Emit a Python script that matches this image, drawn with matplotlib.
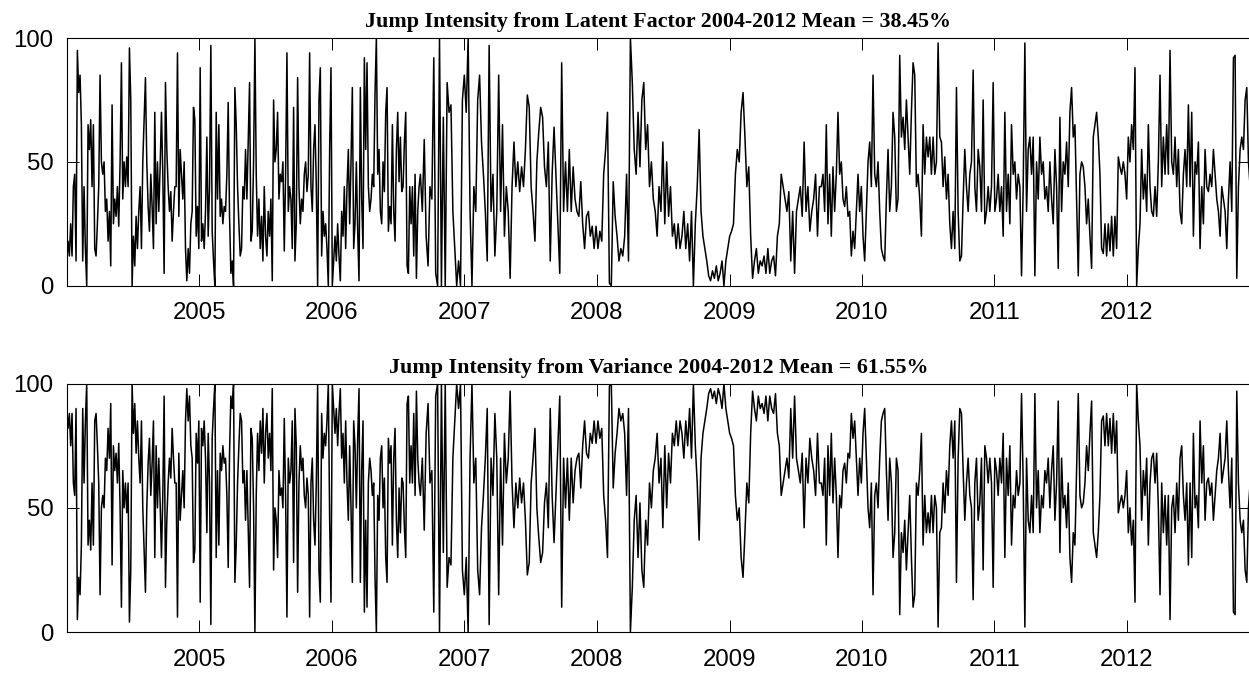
import numpy as np
import pandas as pd
import matplotlib
matplotlib.use('Agg')
import matplotlib.pyplot as plt
import matplotlib.dates as mdates

# dates where each typed block of values starts / ends
seg_edges = ['2004-01-01', '2006-09-02', '2009-09-11', '2012-12-06']

# jump intensity from latent factor (%)
latent_1 = [10, 18, 12, 25, 12, 40, 45, 10, 95, 78, 85, 65, 10, 40, 15, 0, 65, 55, 67, 40,
            65, 15, 12, 25, 40, 85, 50, 45, 50, 30, 35, 18, 30, 8, 73, 25, 35, 28, 40, 24,
            50, 90, 35, 50, 40, 52, 40, 96, 75, 0, 20, 8, 28, 15, 30, 40, 15, 50, 67, 84,
            50, 32, 22, 45, 32, 15, 70, 25, 50, 30, 48, 70, 45, 5, 82, 55, 40, 30, 38, 18,
            30, 40, 40, 94, 28, 55, 45, 35, 50, 15, 2, 15, 5, 25, 30, 72, 67, 20, 32, 15,
            88, 18, 25, 15, 30, 60, 20, 40, 97, 22, 10, 0, 70, 35, 65, 28, 35, 25, 32, 30,
            45, 74, 28, 5, 10, 0, 80, 65, 40, 25, 12, 15, 40, 35, 55, 35, 58, 82, 18, 22,
            50, 100, 45, 20, 35, 15, 28, 10, 40, 20, 12, 30, 20, 35, 2, 75, 50, 55, 70, 35,
            45, 42, 50, 14, 45, 94, 30, 40, 35, 15, 72, 10, 25, 84, 40, 25, 35, 30, 45, 50,
            38, 45, 94, 40, 30, 55, 65, 40, 0, 75, 88, 12, 30, 20, 25, 15, 0, 55, 88, 0,
            10, 20, 10, 25, 12, 2, 30, 20, 40, 15, 40, 55, 25, 50, 80, 15, 25, 50, 22, 2,
            80, 35, 15, 92, 55, 90, 40, 30, 35, 45, 40, 78, 100, 45, 55, 30, 25, 50, 38, 70,
            80, 22, 32, 25, 65, 30, 18, 55, 70, 42, 60, 38, 40, 58, 70, 8, 5, 40, 25, 40,
            12, 45, 3, 30, 40]
latent_2 = [45, 30, 59, 20, 8, 40, 35, 92, 5, 0, 100, 0, 68, 0, 82, 70, 73, 30, 15, 0,
            10, 0, 75, 85, 70, 100, 30, 0, 40, 30, 75, 85, 58, 45, 30, 10, 97, 30, 45, 12,
            30, 85, 30, 65, 20, 40, 30, 3, 40, 58, 40, 50, 38, 48, 40, 55, 77, 72, 40, 30,
            18, 50, 62, 72, 68, 48, 40, 58, 10, 45, 64, 45, 25, 5, 90, 30, 50, 30, 55, 30,
            48, 35, 30, 28, 42, 25, 15, 28, 30, 20, 24, 15, 24, 15, 22, 18, 45, 55, 70, 1,
            0, 42, 28, 20, 10, 15, 12, 20, 45, 10, 100, 82, 55, 45, 70, 48, 75, 82, 55, 65,
            40, 50, 35, 30, 20, 40, 30, 58, 25, 50, 28, 40, 20, 25, 15, 25, 15, 20, 30, 15,
            25, 10, 30, 0, 25, 40, 63, 30, 20, 15, 10, 4, 2, 6, 3, 8, 2, 5, 10, 0,
            10, 15, 20, 22, 25, 45, 55, 50, 70, 78, 60, 40, 48, 20, 3, 10, 15, 5, 10, 8,
            12, 5, 15, 5, 10, 12, 4, 20, 25, 45, 40, 35, 30, 38, 10, 30, 5, 30, 35, 40,
            28, 58, 30, 40, 22, 30, 35, 45, 20, 40]
latent_3 = [40, 45, 30, 65, 25, 45, 20, 48, 30, 45, 70, 45, 50, 35, 32, 40, 28, 30, 12, 22,
            15, 30, 45, 30, 40, 20, 10, 30, 50, 58, 40, 85, 45, 40, 50, 30, 15, 12, 10, 35,
            55, 30, 40, 70, 60, 30, 35, 93, 60, 68, 55, 75, 60, 45, 70, 90, 85, 40, 45, 35,
            20, 65, 45, 60, 52, 60, 45, 60, 45, 50, 98, 60, 58, 40, 52, 35, 45, 25, 15, 30,
            15, 80, 30, 10, 12, 35, 55, 40, 30, 45, 50, 87, 40, 30, 55, 48, 30, 75, 25, 30,
            40, 30, 40, 82, 30, 35, 45, 30, 40, 20, 70, 30, 45, 25, 65, 45, 50, 35, 45, 40,
            4, 40, 98, 30, 55, 60, 45, 60, 4, 50, 35, 60, 45, 50, 35, 40, 30, 50, 35, 25,
            55, 40, 7, 68, 30, 50, 45, 58, 40, 70, 80, 60, 65, 35, 4, 45, 50, 48, 40, 25,
            35, 20, 7, 60, 65, 70, 60, 45, 15, 13, 25, 12, 25, 14, 28, 12, 28, 15, 52, 48,
            45, 50, 45, 35, 60, 50, 65, 55, 88, 0, 15, 25, 55, 35, 45, 30, 65, 40, 30, 28,
            40, 28, 50, 85, 40, 60, 45, 65, 45, 95, 50, 45, 60, 40, 55, 30, 25, 45, 55, 40,
            73, 40, 70, 20, 50, 45, 58, 15, 40, 25, 55, 40, 38, 45, 40, 55, 45, 35, 30, 20,
            40, 35, 30, 15, 35, 50, 30, 92, 93, 3, 40, 55, 60, 55, 75, 80, 50, 40]

# jump intensity from variance (%)
variance_1 = [90, 82, 88, 75, 88, 60, 55, 90, 5, 22, 15, 35, 90, 60, 85, 100, 35, 45, 33, 60,
              35, 85, 88, 75, 60, 15, 50, 55, 50, 70, 65, 82, 70, 92, 27, 75, 65, 72, 60, 76,
              50, 10, 65, 50, 60, 48, 60, 4, 25, 100, 80, 92, 72, 85, 70, 60, 85, 50, 33, 16,
              50, 68, 78, 55, 68, 85, 30, 75, 50, 70, 52, 30, 55, 95, 18, 45, 60, 70, 62, 82,
              70, 60, 60, 6, 72, 45, 55, 65, 50, 85, 98, 85, 95, 75, 70, 28, 33, 80, 68, 85,
              12, 82, 75, 85, 70, 40, 80, 60, 3, 78, 90, 100, 30, 65, 35, 72, 65, 75, 68, 70,
              55, 26, 72, 95, 90, 100, 20, 35, 60, 75, 88, 85, 60, 65, 45, 65, 42, 18, 82, 78,
              50, 0, 55, 80, 65, 85, 72, 90, 60, 80, 88, 70, 80, 65, 98, 25, 50, 45, 30, 65,
              55, 58, 50, 86, 55, 6, 70, 60, 65, 85, 28, 90, 75, 16, 60, 75, 65, 70, 55, 50,
              62, 55, 6, 60, 70, 45, 35, 60, 100, 25, 12, 88, 70, 80, 75, 85, 100, 45, 12, 100,
              90, 80, 90, 75, 88, 98, 70, 80, 60, 85, 60, 45, 75, 50, 20, 85, 75, 50, 78, 98,
              20, 65, 85, 8, 45, 10, 60, 70, 65, 55, 60, 22, 0, 55, 45, 70, 75, 50, 62, 30,
              20, 78, 68, 75, 35, 70, 82, 45, 30, 58, 40, 62, 60, 42, 30, 92, 95, 60, 75, 60,
              88, 55, 97, 70, 60]
variance_2 = [55, 70, 41, 80, 92, 60, 65, 8, 95, 100, 0, 100, 32, 100, 18, 30, 27, 70, 85, 100,
              90, 100, 25, 15, 30, 0, 70, 100, 60, 70, 25, 15, 42, 55, 70, 90, 3, 70, 55, 88,
              70, 15, 70, 35, 80, 60, 70, 97, 60, 42, 60, 50, 62, 52, 60, 45, 23, 28, 60, 70,
              82, 50, 38, 28, 32, 52, 60, 42, 90, 55, 36, 55, 75, 95, 10, 70, 50, 70, 45, 70,
              52, 65, 70, 72, 58, 75, 85, 72, 70, 80, 76, 85, 76, 85, 78, 82, 55, 45, 30, 99,
              100, 58, 72, 80, 90, 85, 88, 80, 55, 90, 0, 18, 45, 55, 30, 52, 25, 18, 45, 35,
              60, 50, 65, 70, 80, 60, 70, 42, 75, 50, 72, 60, 80, 75, 85, 75, 85, 80, 70, 85,
              75, 90, 70, 100, 75, 60, 37, 70, 80, 85, 90, 96, 98, 94, 97, 92, 98, 95, 90, 100,
              90, 85, 80, 78, 75, 55, 45, 50, 30, 22, 40, 60, 52, 80, 97, 90, 85, 95, 90, 92,
              88, 95, 85, 95, 90, 88, 96, 80, 75, 55, 60, 65, 70, 62, 90, 70, 95, 70, 65, 60,
              72, 42, 70, 60, 78, 70, 65, 55, 80, 60]
variance_3 = [60, 55, 70, 35, 75, 55, 80, 52, 70, 55, 30, 55, 50, 65, 68, 60, 72, 70, 88, 78,
              85, 70, 55, 70, 60, 80, 90, 70, 50, 42, 60, 15, 55, 60, 50, 70, 85, 88, 90, 65,
              45, 70, 60, 30, 40, 70, 65, 7, 40, 32, 45, 25, 40, 55, 30, 10, 15, 60, 55, 65,
              80, 35, 55, 40, 48, 40, 55, 40, 55, 50, 2, 40, 42, 60, 48, 65, 55, 75, 85, 70,
              85, 20, 70, 90, 88, 65, 45, 60, 70, 55, 50, 13, 60, 70, 45, 52, 70, 25, 75, 70,
              60, 70, 60, 18, 70, 65, 55, 70, 60, 80, 30, 70, 55, 75, 35, 55, 50, 65, 55, 60,
              96, 60, 2, 70, 45, 40, 55, 40, 96, 50, 65, 40, 55, 50, 65, 60, 70, 50, 65, 75,
              45, 60, 93, 32, 70, 50, 55, 42, 60, 30, 20, 40, 35, 65, 96, 55, 50, 52, 60, 75,
              65, 80, 93, 40, 35, 30, 40, 55, 85, 87, 75, 88, 75, 86, 72, 88, 72, 85, 48, 52,
              55, 50, 55, 65, 40, 50, 35, 45, 12, 100, 85, 75, 45, 65, 55, 70, 35, 60, 70, 72,
              60, 72, 50, 15, 60, 40, 55, 35, 55, 5, 50, 55, 40, 60, 45, 70, 75, 55, 45, 60,
              27, 60, 30, 80, 50, 55, 42, 85, 60, 75, 45, 60, 62, 55, 60, 45, 55, 65, 70, 80,
              60, 65, 70, 85, 65, 50, 70, 8, 7, 97, 60, 45, 40, 45, 25, 20, 50, 60]

years = list(range(2005, 2013))
yticks = [0, 50, 100]
titles = ['Jump Intensity from Latent Factor 2004-2012 Mean = 38.45%',
          'Jump Intensity from Variance 2004-2012 Mean = 61.55%']


def positions(segs):
    e = mdates.date2num(pd.to_datetime(seg_edges))
    xs = []
    for k, s in enumerate(segs):
        last = k == len(segs) - 1
        x = np.linspace(e[k], e[k + 1], len(s) + (0 if last else 1))
        xs.append(x if last else x[:-1])
    return np.concatenate(xs), e


fig = plt.figure(figsize=(12.49, 6.75), dpi=100)
boxes = [[0.0534, 0.5767, 0.9475, 0.3670],
         [0.0534, 0.0637, 0.9475, 0.3679]]
series = [[latent_1, latent_2, latent_3], [variance_1, variance_2, variance_3]]

for box, segs, title in zip(boxes, series, titles):
    ax = fig.add_axes(box)
    x, e = positions(segs)
    y = np.concatenate([np.array(s, dtype=float) for s in segs])
    ax.plot(x, y, color='k', lw=1.1)
    ax.set_xlim(e[0], e[-1])
    ax.set_ylim(0, 100)
    ax.set_xticks(mdates.date2num(pd.to_datetime([f'{yr}-01-01' for yr in years])))
    ax.set_xticklabels([str(yr) for yr in years], fontfamily='Liberation Sans')
    ax.set_yticks(yticks)
    ax.set_yticklabels([str(t) for t in yticks], fontfamily='Liberation Sans')
    ax.tick_params(direction='in', top=True, right=True, length=8.6, width=0.7,
                   labelsize=17.3)
    ax.tick_params(axis='x', pad=12.0)
    ax.tick_params(axis='y', pad=9.5)
    for sp in ax.spines.values():
        sp.set_linewidth(0.8)
    ax.set_title(title, fontfamily='Liberation Serif', fontweight='bold',
                 fontsize=15.8, pad=7.6)

fig.savefig('out.png', dpi=100)
